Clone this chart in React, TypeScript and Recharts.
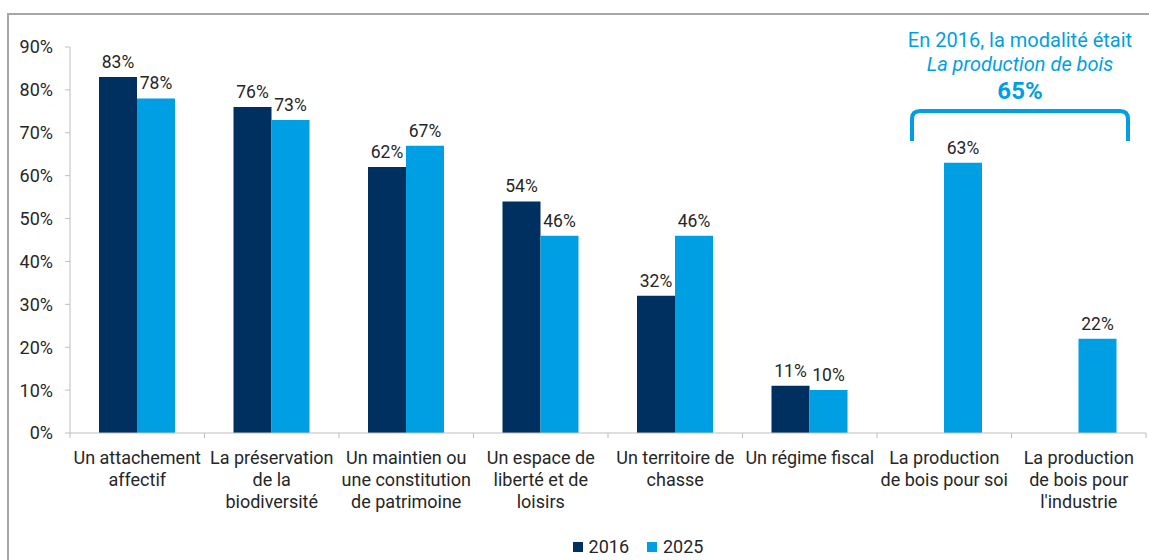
import { BarChart, Bar, XAxis, YAxis, Legend, LabelList } from "recharts";

const categories = [
  "Un attachement\naffectif",
  "La préservation\nde la\nbiodiversité",
  "Un maintien ou\nune constitution\nde patrimoine",
  "Un espace de\nliberté et de\nloisirs",
  "Un territoire de\nchasse",
  "Un régime fiscal",
  "La production\nde bois pour soi",
  "La production\nde bois pour\nl'industrie",
];
const values2016 = [83, 76, 62, 54, 32, 11, null, null];
const values2025 = [78, 73, 67, 46, 46, 10, 63, 22];
const yTicks = [0, 10, 20, 30, 40, 50, 60, 70, 80, 90];

const DARK = "#00305f";
const LIGHT = "#009fe3";
const TEXT = "#262626";
const AXIS = "#bfbfbf";
const FONT = "Roboto, 'Noto Sans', sans-serif";

const data = categories.map((name, i) => ({
  name,
  y2016: values2016[i],
  y2025: values2025[i],
}));

const CategoryTick = (props: any) => {
  const { x, y, payload, index } = props;
  const half = payload?.offset || 67.25;
  const lines = String(payload.value).split("\n");
  const last = index === categories.length - 1;
  return (
    <g>
      <line x1={x - half} x2={x - half} y1={y} y2={y + 5} stroke={AXIS} />
      {last && <line x1={x + half} x2={x + half} y1={y} y2={y + 5} stroke={AXIS} />}
      <text x={x} y={y} textAnchor="middle" fill={TEXT} fontSize={18} fontFamily={FONT}>
        {lines.map((l, i) => (
          <tspan key={i} x={x} dy={i === 0 ? 31 : 22}>
            {l}
          </tspan>
        ))}
      </text>
    </g>
  );
};

const LegendContent = () => (
  <div style={{ display: "flex", justifyContent: "center", fontFamily: FONT, fontSize: 18, color: TEXT }}>
    {[
      { label: "2016", color: DARK },
      { label: "2025", color: LIGHT },
    ].map((it, i) => (
      <div key={it.label} style={{ display: "flex", alignItems: "center", marginLeft: i ? 18 : 0 }}>
        <span style={{ width: 10, height: 10, background: it.color, marginRight: 6, display: "inline-block" }} />
        <span>{it.label}</span>
      </div>
    ))}
  </div>
);

export default function App() {
  return (
    <div style={{ position: "absolute", left: 0, top: 0, width: 1149, height: 560, overflow: "hidden", background: "#fff" }}>
      <div
        style={{
          position: "absolute",
          left: 7,
          top: 13,
          width: 1200,
          height: 600,
          borderLeft: "2px solid #a6a6a6",
          borderTop: "2px solid #a6a6a6",
        }}
      />
      <BarChart
        width={1149}
        height={560}
        data={data}
        margin={{ top: 47, right: 3, bottom: 0, left: 0 }}
        barGap={0}
        style={{ position: "absolute", left: 0, top: 0 }}
      >
        <YAxis
          width={70}
          domain={[0, 90]}
          ticks={yTicks}
          tickFormatter={(v: number) => `${v}%`}
          tick={{ fill: TEXT, fontSize: 18, fontFamily: FONT }}
          axisLine={{ stroke: AXIS }}
          tickLine={{ stroke: AXIS }}
          tickSize={5}
          tickMargin={12}
          interval={0}
        />
        <XAxis
          dataKey="name"
          height={127}
          interval={0}
          tickLine={false}
          tickSize={0}
          tickMargin={0}
          axisLine={{ stroke: AXIS }}
          tick={<CategoryTick />}
        />
        <Legend
          layout="horizontal"
          verticalAlign="middle"
          align="center"
          content={<LegendContent />}
          wrapperStyle={{ top: 536, left: 538, width: 200 }}
        />
        <Bar dataKey="y2016" name="2016" fill={DARK} barSize={38} isAnimationActive={false}>
          <LabelList
            dataKey="y2016"
            position="top"
            offset={9}
            formatter={(v: any) => (v == null ? "" : `${v}%`)}
            style={{ fill: TEXT, fontSize: 17.5, fontFamily: FONT }}
          />
        </Bar>
        <Bar dataKey="y2025" name="2025" fill={LIGHT} barSize={38} isAnimationActive={false}>
          <LabelList
            dataKey="y2025"
            position="top"
            offset={9}
            formatter={(v: any) => (v == null ? "" : `${v}%`)}
            style={{ fill: TEXT, fontSize: 17.5, fontFamily: FONT }}
          />
        </Bar>
      </BarChart>
      {/* note about 2016 modality */}
      <svg
        width={1149}
        height={560}
        style={{ position: "absolute", left: 0, top: 0, pointerEvents: "none" }}
        fontFamily={FONT}
      >
        <text x={1020} y={40} textAnchor="middle" dominantBaseline="central" fill={LIGHT} fontSize={20}>
          En 2016, la modalité était
        </text>
        <text x={1020} y={64} textAnchor="middle" dominantBaseline="central" fill={LIGHT} fontSize={20} fontStyle="italic">
          La production de bois
        </text>
        <text x={1020} y={91} textAnchor="middle" dominantBaseline="central" fill={LIGHT} fontSize={24} fontWeight="bold">
          65%
        </text>
        <path
          d="M 912 141 L 912 119 Q 912 111 920 111 L 1120 111 Q 1128 111 1128 119 L 1128 141"
          fill="none"
          stroke={LIGHT}
          strokeWidth={4}
        />
      </svg>
    </div>
  );
}
